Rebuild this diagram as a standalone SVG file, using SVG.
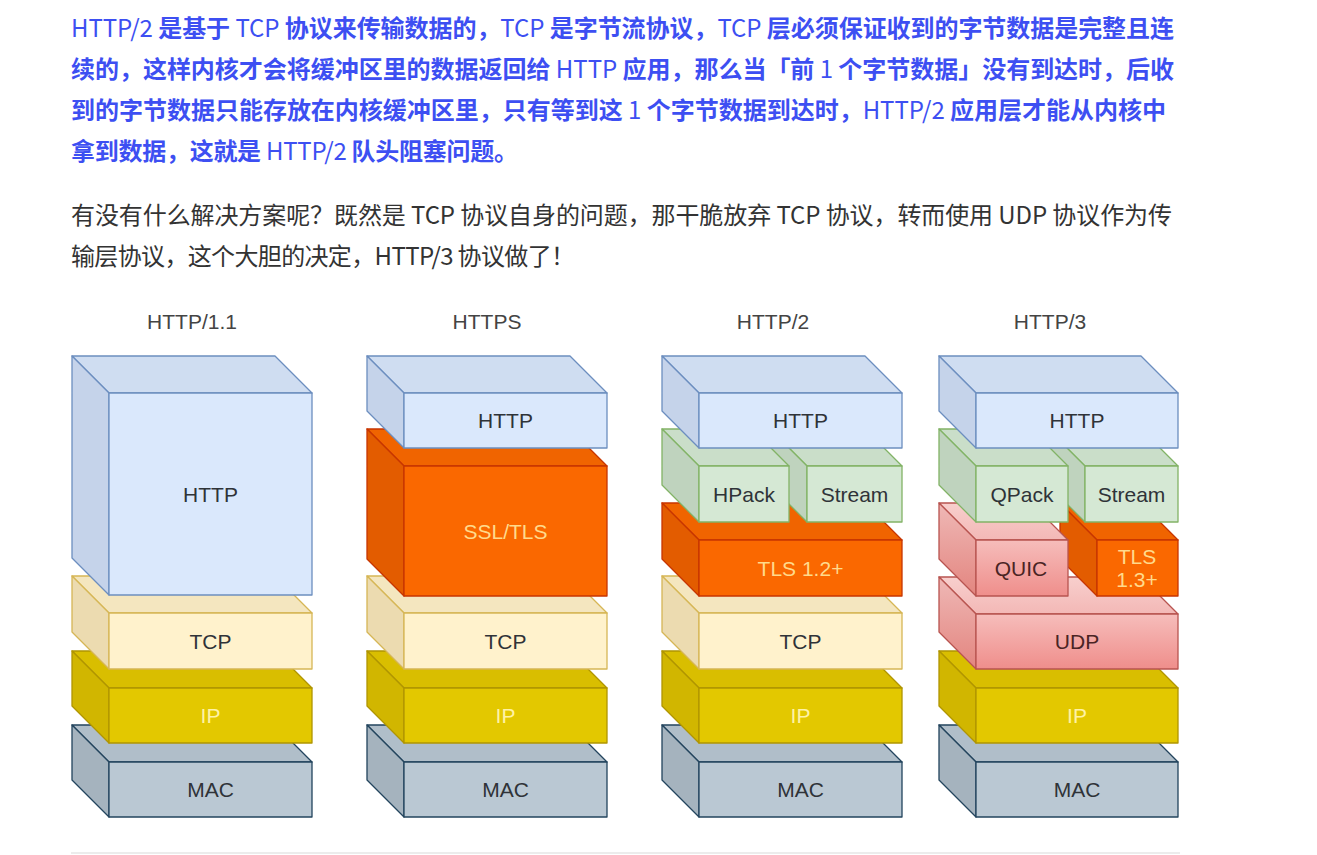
<svg xmlns="http://www.w3.org/2000/svg" width="1317" height="855" viewBox="0 0 1317 855">
<defs>
<linearGradient id="pinkFront" x1="0" y1="0" x2="0" y2="1"><stop offset="0" stop-color="#f6bdbb"/><stop offset="1" stop-color="#ef8e8b"/></linearGradient>
<linearGradient id="pinkTop" x1="0" y1="0" x2="0" y2="1"><stop offset="0" stop-color="#f8cfcd"/><stop offset="1" stop-color="#f3b8b6"/></linearGradient>
<linearGradient id="pinkLeft" x1="0" y1="0" x2="0" y2="1"><stop offset="0" stop-color="#efb8b6"/><stop offset="1" stop-color="#e3857f"/></linearGradient>
<style>
.para{font-family:"Noto Sans CJK SC","Noto Sans",sans-serif;font-size:24px}
.blue{fill:#3d4ff2;font-weight:700}
.lat{font-weight:400}
.gray{fill:#333333;font-weight:400}
.title{font-family:"Liberation Sans",Arial,sans-serif;font-size:21px;fill:#444444;text-anchor:middle}
.lbl{font-family:"Liberation Sans",Arial,sans-serif;font-size:21px;text-anchor:middle;fill:#2f3338}
.lbl.light{fill:#fff2a6}
.lbl.org{fill:#ffda8c}
.lbl.red{fill:#4a2424}
polygon,rect{stroke-width:1.3;stroke-linejoin:round}
.http polygon,.http rect{stroke:#6c8ebf}
.http .t{fill:#cfddf1}.http .l{fill:#c5d3ea}.http .f{fill:#dae8fc}
.tcp polygon,.tcp rect{stroke:#d6b656}
.tcp .t{fill:#f4e6bf}.tcp .l{fill:#ecdbb0}.tcp .f{fill:#fff2cc}
.ip polygon,.ip rect{stroke:#b09500}
.ip .t{fill:#d9be00}.ip .l{fill:#d1b600}.ip .f{fill:#e3c800}
.mac polygon,.mac rect{stroke:#23445d}
.mac .t{fill:#b0bec9}.mac .l{fill:#a5b3be}.mac .f{fill:#bac8d3}
.tls polygon,.tls rect{stroke:#c73500}
.tls .t{fill:#f06400}.tls .l{fill:#e35c00}.tls .f{fill:#fa6800}
.grn polygon,.grn rect{stroke:#82b366}
.grn .t{fill:#cadec9}.grn .l{fill:#bfd3be}.grn .f{fill:#d5e8d4}
.pnk polygon,.pnk rect{stroke:#b85450}
.pnk .t{fill:url(#pinkTop)}.pnk .l{fill:url(#pinkLeft)}.pnk .f{fill:url(#pinkFront)}
</style>
</defs>
<rect width="1317" height="855" fill="#ffffff"/>

<g id="text-top" class="para">
<text class="blue" x="71" y="37" textLength="1103" lengthAdjust="spacing"><tspan class="lat">HTTP/2 </tspan>是基于<tspan class="lat"> TCP </tspan>协议来传输数据的，<tspan class="lat">TCP </tspan>是字节流协议，<tspan class="lat">TCP </tspan>层必须保证收到的字节数据是完整且连</text>
<text class="blue" x="71" y="78" textLength="1103" lengthAdjust="spacing">续的，这样内核才会将缓冲区里的数据返回给<tspan class="lat"> HTTP </tspan>应用，那么当「前<tspan class="lat"> 1 </tspan>个字节数据」没有到达时，后收</text>
<text class="blue" x="71" y="119" textLength="1095" lengthAdjust="spacing">到的字节数据只能存放在内核缓冲区里，只有等到这<tspan class="lat"> 1 </tspan>个字节数据到达时，<tspan class="lat">HTTP/2 </tspan>应用层才能从内核中</text>
<text class="blue" x="71" y="160" textLength="447" lengthAdjust="spacing">拿到数据，这就是<tspan class="lat"> HTTP/2 </tspan>队头阻塞问题。</text>
<text class="gray" x="71" y="224" textLength="1101" lengthAdjust="spacing">有没有什么解决方案呢？既然是 TCP 协议自身的问题，那干脆放弃 TCP 协议，转而使用 UDP 协议作为传</text>
<text class="gray" x="71" y="265" textLength="504" lengthAdjust="spacing">输层协议，这个大胆的决定，HTTP/3 协议做了！</text>
</g>

<g id="titles">
<text class="title" x="192" y="329">HTTP/1.1</text>
<text class="title" x="487" y="329">HTTPS</text>
<text class="title" x="773" y="329">HTTP/2</text>
<text class="title" x="1050" y="329">HTTP/3</text>
</g>

<!-- Stack 1: HTTP/1.1 -->
<g id="s1-mac" class="mac">
<polygon class="t" points="72,725 275,725 312,762 109,762"/><polygon class="l" points="72,725 109,762 109,817 72,780"/><rect class="f" x="109" y="762" width="203" height="55"/>
<text class="lbl" x="210.5" y="797">MAC</text></g>
<g id="s1-ip" class="ip">
<polygon class="t" points="72,651 275,651 312,688 109,688"/><polygon class="l" points="72,651 109,688 109,743 72,706"/><rect class="f" x="109" y="688" width="203" height="55"/>
<text class="lbl light" x="210.5" y="723">IP</text></g>
<g id="s1-tcp" class="tcp">
<polygon class="t" points="72,576 275,576 312,613 109,613"/><polygon class="l" points="72,576 109,613 109,669 72,632"/><rect class="f" x="109" y="613" width="203" height="56"/>
<text class="lbl" x="210.5" y="648.5">TCP</text></g>
<g id="s1-http" class="http">
<polygon class="t" points="72,356 275,356 312,393 109,393"/><polygon class="l" points="72,356 109,393 109,595 72,558"/><rect class="f" x="109" y="393" width="203" height="202"/>
<text class="lbl" x="210.5" y="501.5">HTTP</text></g>

<!-- Stack 2: HTTPS -->
<g id="s2-mac" class="mac">
<polygon class="t" points="367,725 570,725 607,762 404,762"/><polygon class="l" points="367,725 404,762 404,817 367,780"/><rect class="f" x="404" y="762" width="203" height="55"/>
<text class="lbl" x="505.5" y="797">MAC</text></g>
<g id="s2-ip" class="ip">
<polygon class="t" points="367,651 570,651 607,688 404,688"/><polygon class="l" points="367,651 404,688 404,743 367,706"/><rect class="f" x="404" y="688" width="203" height="55"/>
<text class="lbl light" x="505.5" y="723">IP</text></g>
<g id="s2-tcp" class="tcp">
<polygon class="t" points="367,576 570,576 607,613 404,613"/><polygon class="l" points="367,576 404,613 404,669 367,632"/><rect class="f" x="404" y="613" width="203" height="56"/>
<text class="lbl" x="505.5" y="648.5">TCP</text></g>
<g id="s2-ssl" class="tls">
<polygon class="t" points="367,429 570,429 607,466 404,466"/><polygon class="l" points="367,429 404,466 404,596 367,559"/><rect class="f" x="404" y="466" width="203" height="130"/>
<text class="lbl org" x="505.5" y="538.5">SSL/TLS</text></g>
<g id="s2-http" class="http">
<polygon class="t" points="367,356 570,356 607,393 404,393"/><polygon class="l" points="367,356 404,393 404,448 367,411"/><rect class="f" x="404" y="393" width="203" height="55"/>
<text class="lbl" x="505.5" y="428">HTTP</text></g>

<!-- Stack 3: HTTP/2 -->
<g id="s3-mac" class="mac">
<polygon class="t" points="662,725 865,725 902,762 699,762"/><polygon class="l" points="662,725 699,762 699,817 662,780"/><rect class="f" x="699" y="762" width="203" height="55"/>
<text class="lbl" x="800.5" y="797">MAC</text></g>
<g id="s3-ip" class="ip">
<polygon class="t" points="662,651 865,651 902,688 699,688"/><polygon class="l" points="662,651 699,688 699,743 662,706"/><rect class="f" x="699" y="688" width="203" height="55"/>
<text class="lbl light" x="800.5" y="723">IP</text></g>
<g id="s3-tcp" class="tcp">
<polygon class="t" points="662,576 865,576 902,613 699,613"/><polygon class="l" points="662,576 699,613 699,669 662,632"/><rect class="f" x="699" y="613" width="203" height="56"/>
<text class="lbl" x="800.5" y="648.5">TCP</text></g>
<g id="s3-tls" class="tls">
<polygon class="t" points="662,503 865,503 902,540 699,540"/><polygon class="l" points="662,503 699,540 699,596 662,559"/><rect class="f" x="699" y="540" width="203" height="56"/>
<text class="lbl org" x="800.5" y="575.5">TLS 1.2+</text></g>
<g id="s3-stream" class="grn">
<polygon class="t" points="770,429 865,429 902,466 807,466"/><polygon class="l" points="770,429 807,466 807,522 770,485"/><rect class="f" x="807" y="466" width="95" height="56"/>
<text class="lbl" x="854.5" y="501.5">Stream</text></g>
<g id="s3-hpack" class="grn">
<polygon class="t" points="662,429 752,429 789,466 699,466"/><polygon class="l" points="662,429 699,466 699,522 662,485"/><rect class="f" x="699" y="466" width="90" height="56"/>
<text class="lbl" x="744" y="501.5">HPack</text></g>
<g id="s3-http" class="http">
<polygon class="t" points="662,356 865,356 902,393 699,393"/><polygon class="l" points="662,356 699,393 699,448 662,411"/><rect class="f" x="699" y="393" width="203" height="55"/>
<text class="lbl" x="800.5" y="428">HTTP</text></g>

<!-- Stack 4: HTTP/3 -->
<g id="s4-mac" class="mac">
<polygon class="t" points="939,725 1141,725 1178,762 976,762"/><polygon class="l" points="939,725 976,762 976,817 939,780"/><rect class="f" x="976" y="762" width="202" height="55"/>
<text class="lbl" x="1077" y="797">MAC</text></g>
<g id="s4-ip" class="ip">
<polygon class="t" points="939,651 1141,651 1178,688 976,688"/><polygon class="l" points="939,651 976,688 976,743 939,706"/><rect class="f" x="976" y="688" width="202" height="55"/>
<text class="lbl light" x="1077" y="723">IP</text></g>
<g id="s4-udp" class="pnk">
<polygon class="t" points="939,577 1141,577 1178,614 976,614"/><polygon class="l" points="939,577 976,614 976,669 939,632"/><rect class="f" x="976" y="614" width="202" height="55"/>
<text class="lbl red" x="1077" y="649">UDP</text></g>
<g id="s4-tls" class="tls">
<polygon class="t" points="1060,503 1141,503 1178,540 1097,540"/><polygon class="l" points="1060,503 1097,540 1097,596 1060,559"/><rect class="f" x="1097" y="540" width="81" height="56"/>
<text class="lbl org" x="1137" y="564">TLS</text><text class="lbl org" x="1137" y="587">1.3+</text></g>
<g id="s4-quic" class="pnk">
<polygon class="t" points="939,503 1031,503 1068,540 976,540"/><polygon class="l" points="939,503 976,540 976,596 939,559"/><rect class="f" x="976" y="540" width="92" height="56"/>
<text class="lbl red" x="1021" y="575.5">QUIC</text></g>
<g id="s4-stream" class="grn">
<polygon class="t" points="1048,429 1141,429 1178,466 1085,466"/><polygon class="l" points="1048,429 1085,466 1085,522 1048,485"/><rect class="f" x="1085" y="466" width="93" height="56"/>
<text class="lbl" x="1131.5" y="501.5">Stream</text></g>
<g id="s4-qpack" class="grn">
<polygon class="t" points="939,429 1031,429 1068,466 976,466"/><polygon class="l" points="939,429 976,466 976,522 939,485"/><rect class="f" x="976" y="466" width="92" height="56"/>
<text class="lbl" x="1022" y="501.5">QPack</text></g>
<g id="s4-http" class="http">
<polygon class="t" points="939,356 1141,356 1178,393 976,393"/><polygon class="l" points="939,356 976,393 976,448 939,411"/><rect class="f" x="976" y="393" width="202" height="55"/>
<text class="lbl" x="1077" y="428">HTTP</text></g>

<g id="connectors"></g>
<line id="rule" x1="71" y1="853" x2="1180" y2="853" stroke="#e6e6e6" stroke-width="1.5"/>
</svg>
